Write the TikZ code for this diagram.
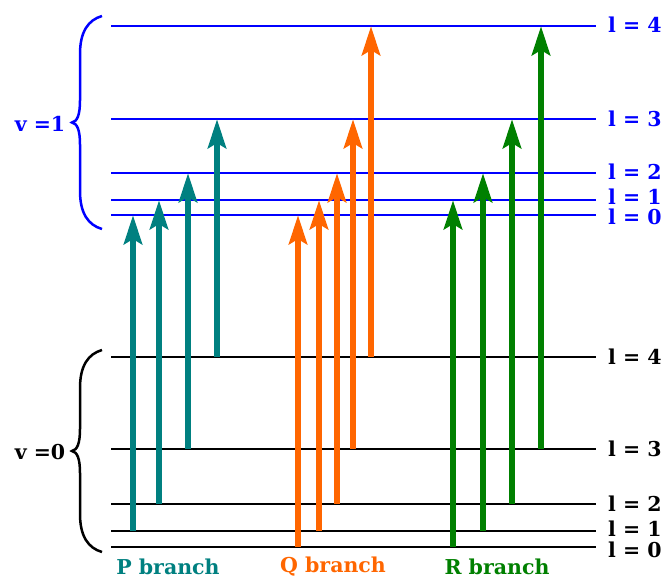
\documentclass[tikz,border=0pt]{standalone}
\usepackage{fontspec}
\newfontfamily\lblfont{DejaVu Serif}
\usetikzlibrary{arrows.meta}
\definecolor{pcol}{RGB}{0,128,128}
\definecolor{qcol}{RGB}{255,102,0}
\definecolor{rcol}{RGB}{0,128,0}
\definecolor{upcol}{RGB}{0,0,255}

\begin{document}
\begin{tikzpicture}[
  x=1pt, y=-1pt,
  font=\lblfont\bfseries\fontsize{20.5}{24}\selectfont,
  lvl/.style={line width=2.9pt},
  trans/.style={line width=6.8pt,
    -{Stealth[length=29pt, width=18pt, inset=5pt]}},
  brc/.style={line width=2.5pt},
  lab/.style={anchor=west, inner sep=0pt},
  blab/.style={inner sep=0pt}
]
\useasboundingbox (0,0) rectangle (665,582);

% ---- Levels: v = 1 ----
\foreach \l/\y/\ty in {0/215/217,1/200/197,2/173/172,3/119/119,4/26/25}{
  \draw[lvl, upcol] (111,\y) coordinate (u\l) -- (596,\y);
  \node[lab, upcol] (ul\l) at (608,\ty) {l = \l};
}

% ---- Levels: v = 0 ----
\foreach \l/\y/\ty in {0/547/550,1/531/529,2/504/504,3/449/449,4/357/357}{
  \draw[lvl] (111,\y) coordinate (g\l) -- (596,\y);
  \node[lab] (gl\l) at (608,\ty) {l = \l};
}

% ---- Braces ----
\foreach \t/\b/\c in {16/229/upcol, 350/552/black}{
  \pgfmathsetmacro{\m}{(\t+\b)/2}
  \draw[brc, \c] (102,\t) .. controls (88,\t+4) and (80,\t+16) .. (80,\t+38)
    -- (80,\m-22) .. controls (80,\m-7) and (77,\m-1) .. (72,\m)
    .. controls (77,\m+1) and (80,\m+7) .. (80,\m+22)
    -- (80,\b-38) .. controls (80,\b-16) and (88,\b-4) .. (102,\b);
}
\node[blab, upcol] (v1lab) at (40,124) {v =1};
\node[blab] (v0lab) at (40,452) {v =0};

% ---- P branch ----
\foreach \dx/\a/\b in {22/1/0, 48/2/1, 77/3/2, 106/4/3}
  \draw[trans, pcol] ([xshift=\dx]g\a) -- ([xshift=\dx]u\b);

% ---- Q branch ----
\foreach \dx/\a in {187/0, 208/1, 226/2, 242/3, 260/4}
  \draw[trans, qcol] ([xshift=\dx]g\a) -- ([xshift=\dx]u\a);

% ---- R branch ----
\foreach \dx/\a/\b in {342/0/1, 372/1/2, 401/2/3, 430/3/4}
  \draw[trans, rcol] ([xshift=\dx]g\a) -- ([xshift=\dx]u\b);

% ---- Branch labels ----
\node[blab, pcol] (pbr) at (168,567) {P branch};
\node[blab, qcol] (qbr) at (333,567) {Q branch};
\node[blab, rcol] (rbr) at (497,567) {R branch};

\end{tikzpicture}
\end{document}
